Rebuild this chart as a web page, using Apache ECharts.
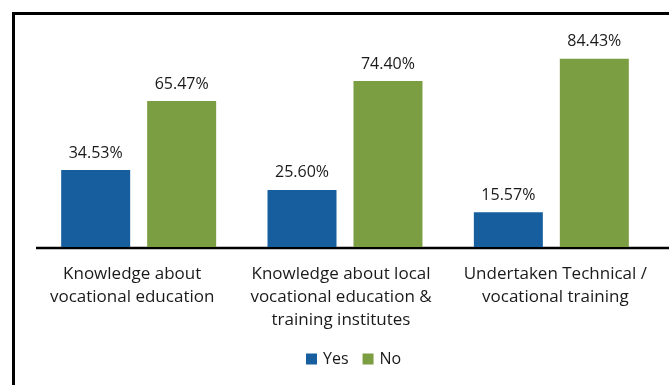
<!DOCTYPE html>
<html>
<head>
<meta charset="utf-8">
<script src="https://cdn.jsdelivr.net/npm/echarts@6/dist/echarts.min.js"></script>
<style>
  html, body { margin: 0; padding: 0; background: #ffffff; }
  #chart { width: 669px; height: 385px; }
</style>
</head>
<body>
<div id="chart"></div>
<script>
// Survey responses (% of respondents)
const categories = [
  'Knowledge about\nvocational education',
  'Knowledge about local\nvocational education &\ntraining institutes',
  'Undertaken Technical /\nvocational training'
];
const seriesNames = ['Yes', 'No'];
const yesValues = [34.53, 25.60, 15.57];
const noValues = [65.47, 74.40, 84.43];

// Horizontal nudge of each category label block (px, left/right padding)
const labelPadding = [[0, 13, 0, 0], [0, 8, 0, 0], [0, 0, 0, 8]];

const FONT = '"Open Sans", "Noto Sans", sans-serif';
const BLUE = '#175e9e';
const GREEN = '#7b9e43';

const chart = echarts.init(document.getElementById('chart'), null, { renderer: 'canvas' });

const valueLabel = {
  show: true,
  position: 'top',
  distance: 9,
  color: '#1a1a1a',
  fontFamily: FONT,
  fontSize: 16,
  formatter: p => p.value.toFixed(2) + '%'
};

chart.setOption({
  animation: false,
  backgroundColor: '#ffffff',
  grid: { left: 35.5, right: 14.5, top: 24, bottom: 138 },
  legend: {
    data: seriesNames,
    left: 301,
    top: 346,
    icon: 'rect',
    itemWidth: 11,
    itemHeight: 11,
    itemGap: 14,
    textStyle: { fontFamily: FONT, fontSize: 16, color: '#1a1a1a', padding: [0, 0, 0, 1] }
  },
  xAxis: {
    type: 'category',
    data: categories.map((c, i) => ({ value: c, textStyle: { padding: labelPadding[i] } })),
    axisLine: { show: false },
    axisTick: { show: false },
    axisLabel: {
      interval: 0,
      margin: 16,
      fontFamily: FONT,
      fontSize: 17,
      lineHeight: 23,
      color: '#1a1a1a',
      align: 'center'
    }
  },
  yAxis: {
    type: 'value',
    min: 0,
    max: 100,
    show: false,
    splitLine: { show: false }
  },
  series: [
    {
      name: seriesNames[0],
      type: 'bar',
      data: yesValues,
      barWidth: 69,
      barGap: '24.6%',
      itemStyle: { color: BLUE },
      label: valueLabel
    },
    {
      name: seriesNames[1],
      type: 'bar',
      data: noValues,
      barWidth: 69,
      barGap: '24.6%',
      itemStyle: { color: GREEN },
      label: valueLabel
    }
  ]
});

// Frame and baseline, placed from the axis scale
const baseY = chart.convertToPixel({ yAxisIndex: 0 }, 0);
chart.setOption({
  graphic: [
    {
      type: 'rect',
      shape: { x: 13.5, y: 13.5, width: 700, height: 400 },
      style: { fill: 'none', stroke: '#000000', lineWidth: 3 },
      silent: true
    },
    {
      type: 'line',
      shape: { x1: 36, y1: baseY + 1, x2: 669, y2: baseY + 1 },
      style: { stroke: '#000000', lineWidth: 2.5 },
      silent: true
    }
  ]
});
</script>
</body>
</html>
